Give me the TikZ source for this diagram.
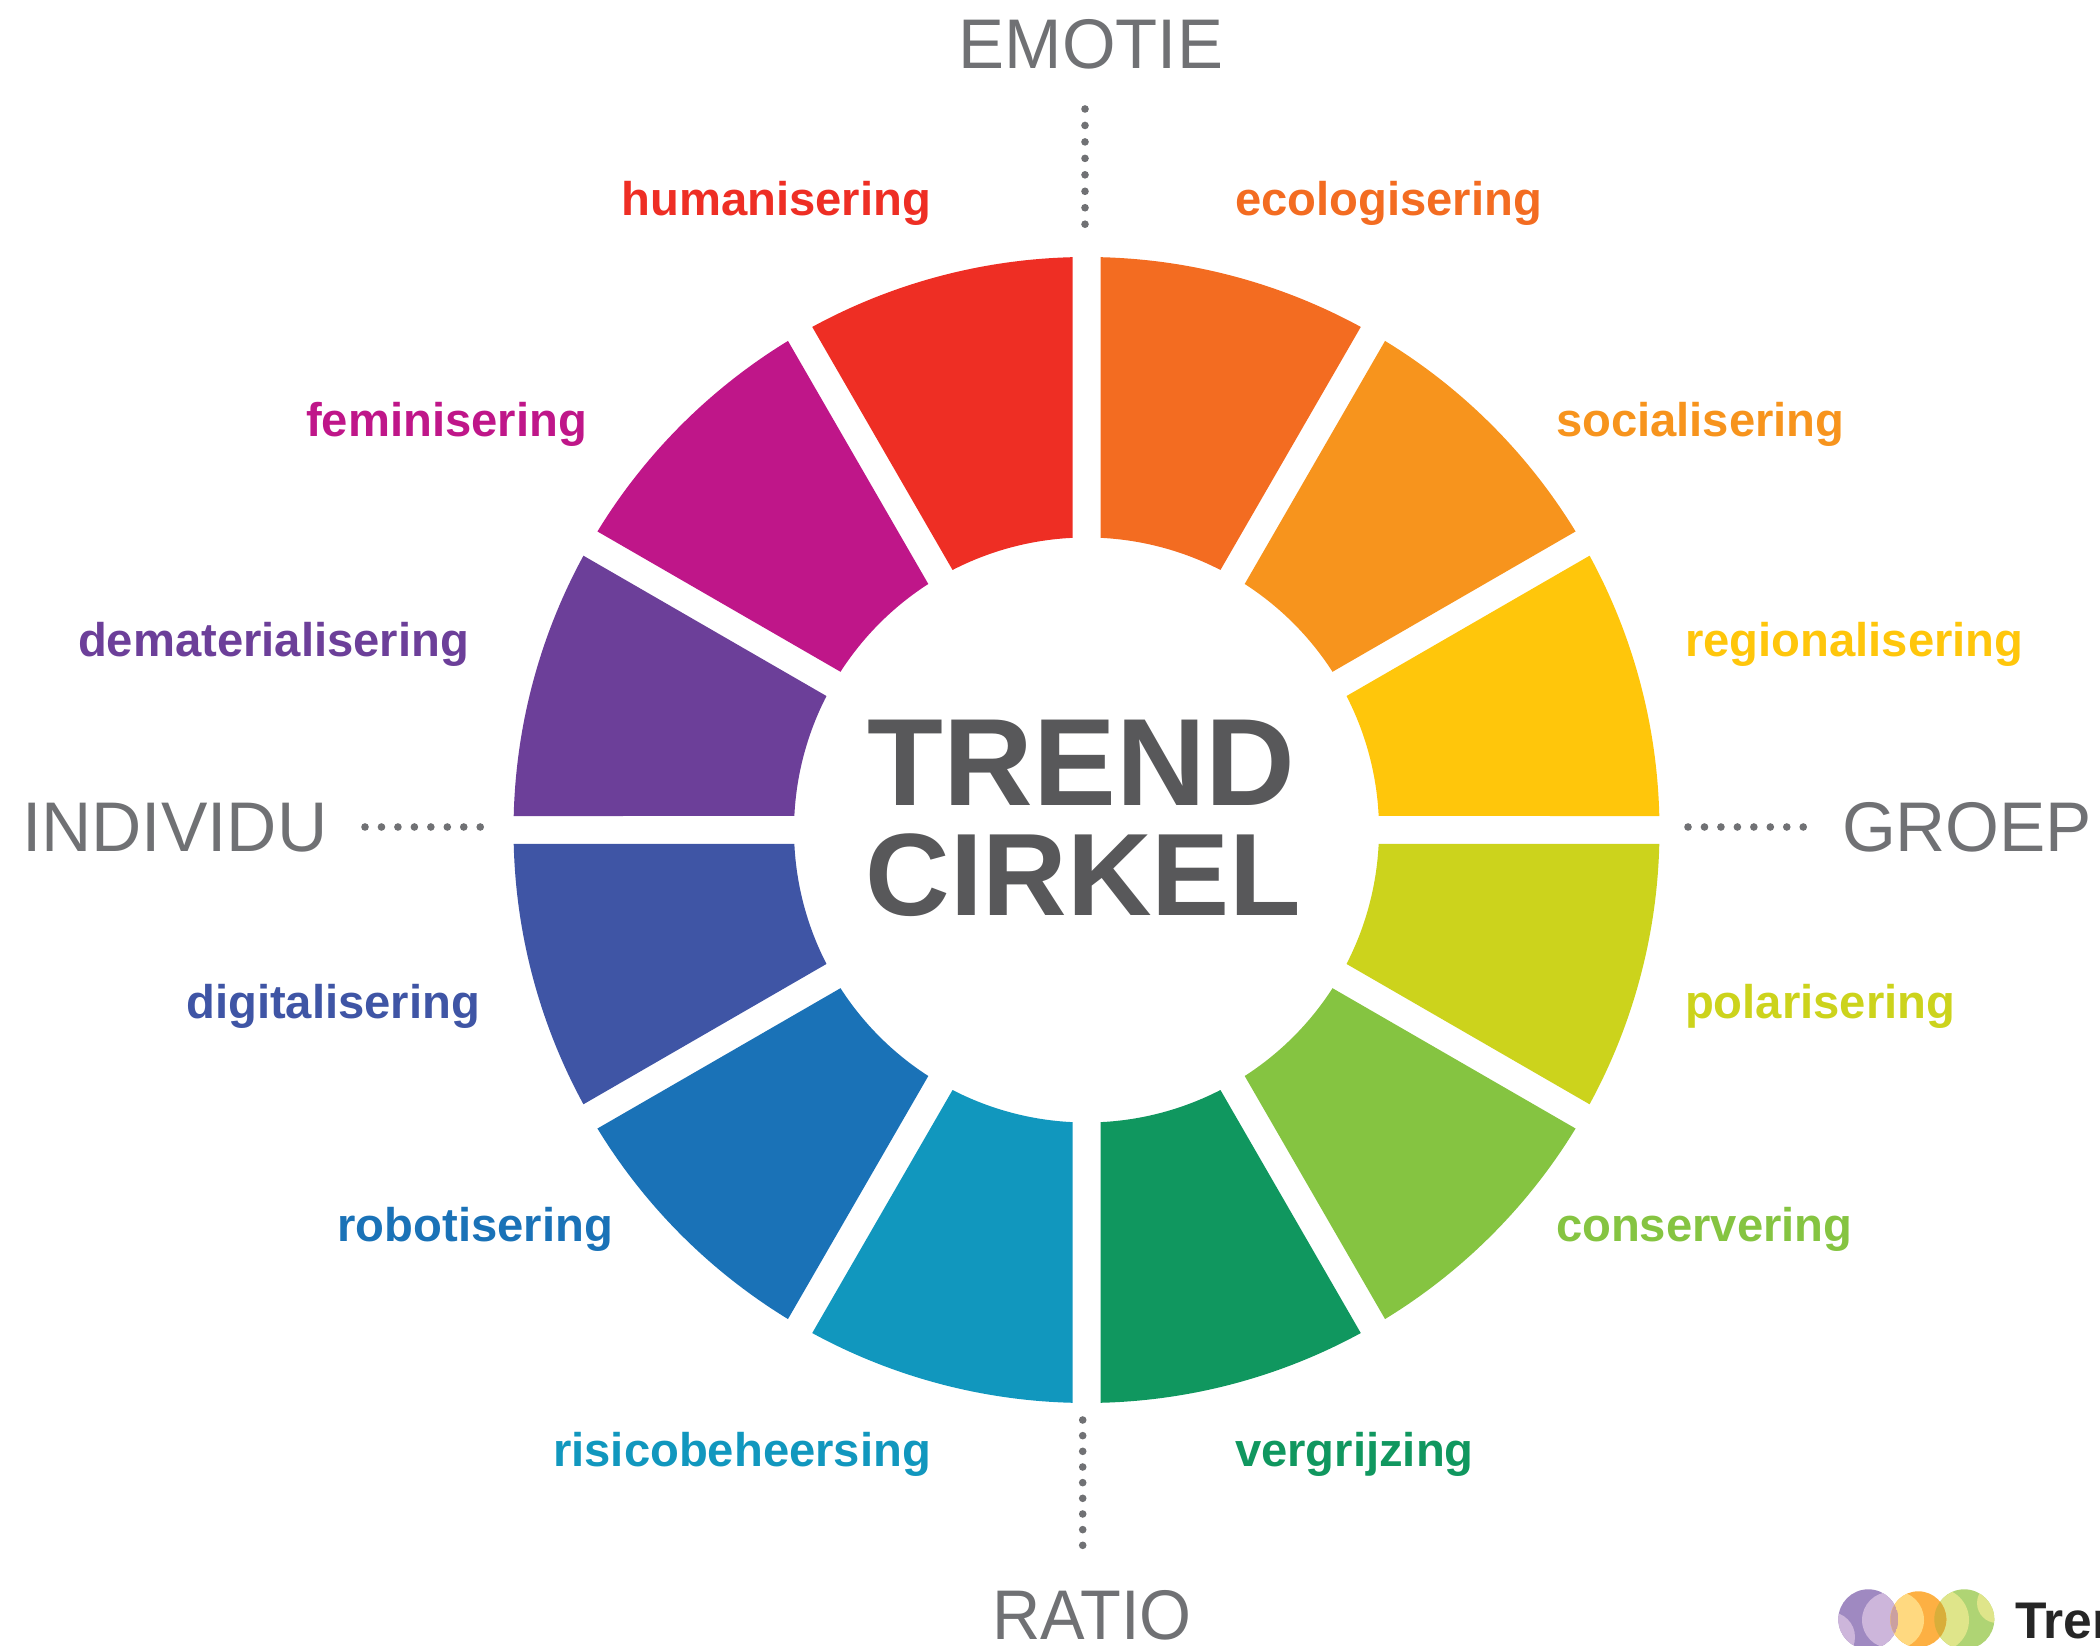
\documentclass[tikz,border=0pt]{standalone}
\usepackage{fontspec}
\setmainfont{Liberation Sans}
\definecolor{cEco}{HTML}{F36C21}
\definecolor{cSoc}{HTML}{F7941D}
\definecolor{cReg}{HTML}{FFC60B}
\definecolor{cPol}{HTML}{CCD31C}
\definecolor{cCon}{HTML}{85C441}
\definecolor{cVer}{HTML}{10975F}
\definecolor{cRis}{HTML}{1197BE}
\definecolor{cRob}{HTML}{1A72B7}
\definecolor{cDig}{HTML}{3F55A5}
\definecolor{cDem}{HTML}{6C3F99}
\definecolor{cFem}{HTML}{BF1689}
\definecolor{cHum}{HTML}{EE2E24}
\definecolor{axisgrey}{HTML}{707174}
\definecolor{titlegrey}{HTML}{58585A}
\definecolor{lPur}{HTML}{9F89C1}
\definecolor{lPurL}{HTML}{CDB6DB}
\definecolor{lOra}{HTML}{FDB043}
\definecolor{lOraL}{HTML}{FFD980}
\definecolor{lGre}{HTML}{AFD474}
\definecolor{lGreL}{HTML}{DFE58A}
\definecolor{lMixA}{HTML}{CBA0A0}
\definecolor{lMixB}{HTML}{D8AE3A}
\tikzset{
  trendlabel/.style={font=\bfseries\fontsize{40.3}{44}\selectfont, inner sep=0pt, outer sep=0pt},
  axislabel/.style={font=\fontsize{60}{64}\selectfont, text=axisgrey, inner sep=0pt, outer sep=0pt},
  titlelabel/.style={font=\bfseries, text=titlegrey, inner sep=0pt, outer sep=0pt, anchor=base},
  dotline/.style={draw=axisgrey, line width=6.5pt, line cap=round, dash pattern=on 0pt off #1},
  dotline/.default=14.05pt,
}
\begin{document}
\begin{tikzpicture}[x=0.03cm,y=0.03cm]
\useasboundingbox (0,0) rectangle (2100,1645);
\clip (0,0) rectangle (2100,1645);
% wheel
\def\Rout{573}\def\Rin{292.5}\def\Gap{14}
\pgfmathsetmacro{\Oa}{asin(\Gap/\Rout)}
\pgfmathsetmacro{\Ia}{asin(\Gap/\Rin)}
\begin{scope}[shift={(1086.5,815)}]
\foreach \a/\c in {60/cEco,30/cSoc,0/cReg,-30/cPol,-60/cCon,-90/cVer,-120/cRis,-150/cRob,-180/cDig,150/cDem,120/cFem,90/cHum}{
  \pgfmathsetmacro{\sO}{\a+\Oa}
  \pgfmathsetmacro{\eO}{\a+30-\Oa}
  \pgfmathsetmacro{\sI}{\a+\Ia}
  \pgfmathsetmacro{\eI}{\a+30-\Ia}
  \fill[\c] (\sO:\Rout) arc[start angle=\sO,end angle=\eO,radius=\Rout]
    -- (\eI:\Rin) arc[start angle=\eI,end angle=\sI,radius=\Rin] -- cycle;
}
\end{scope}
% title
\node[titlelabel] (t1) at (1081.5,839) {\fontsize{106}{106}\selectfont TREND};
\node[titlelabel] (t2) at (1083.5,729) {\fontsize{100}{100}\selectfont CIRKEL};
% trend labels
\node[trendlabel,text=cEco,anchor=base west] (eco) at (1235,1429) {ecologisering};
\node[trendlabel,text=cSoc,anchor=base west] (soc) at (1556,1208) {socialisering};
\node[trendlabel,text=cReg,anchor=base west] (reg) at (1685,988) {regionalisering};
\node[trendlabel,text=cPol,anchor=base west] (pol) at (1685,626) {polarisering};
\node[trendlabel,text=cCon,anchor=base west] (con) at (1556,403) {conservering};
\node[trendlabel,text=cVer,anchor=base west] (ver) at (1235,179) {vergrijzing};
\node[trendlabel,text=cHum,anchor=base east] (hum) at (931,1429) {humanisering};
\node[trendlabel,text=cFem,anchor=base east] (fem) at (587,1208) {feminisering};
\node[trendlabel,text=cDem,anchor=base east] (dem) at (469,988) {dematerialisering};
\node[trendlabel,text=cDig,anchor=base east] (dig) at (480,626) {digitalisering};
\node[trendlabel,text=cRob,anchor=base east] (rob) at (613,403) {robotisering};
\node[trendlabel,text=cRis,anchor=base east] (ris) at (931,179) {risicobeheersing};
% axis labels
\node[axislabel,anchor=base,xscale=0.98] (emo) at (1091,1576) {EMOTIE};
\node[axislabel,anchor=base,xscale=0.95] (rat) at (1092,6) {RATIO};
\node[axislabel,anchor=base west,xscale=0.99] (ind) at (22,793) {INDIVIDU};
\node[axislabel,anchor=base west,xscale=0.985] (gro) at (1842,793) {GROEP};
% dotted axes
\coordinate (eA) at (1085,1536); \coordinate (eB) at (1085,1419);
\coordinate (rA) at (1082.7,225); \coordinate (rB) at (1082.7,99);
\coordinate (iA) at (365,818); \coordinate (iB) at (482,818);
\coordinate (gA) at (1688,818); \coordinate (gB) at (1806,818);
\draw[dotline] (eA) -- (eB);
\draw[dotline=13.37pt] (rA) -- (rB);
\draw[dotline] (iA) -- (iB);
\draw[dotline] (gA) -- (gB);
% logo
\fill[lPur] (1868.3,25.7) circle[radius=30];
\begin{scope}
\clip (1868.3,25.7) circle[radius=30];
\fill[lPurL] (1890,25) circle[radius=28];
\fill[lPurL] (1830,8) circle[radius=25];
\end{scope}
\fill[lGre] (1964.3,25.7) circle[radius=30];
\begin{scope}
\clip (1964.3,25.7) circle[radius=30];
\fill[lGreL] (1937,25) circle[radius=32];
\fill[lGreL] (1997,42) circle[radius=20];
\end{scope}
\fill[lOra] (1918.3,25.7) circle[radius=28];
\begin{scope}
\clip (1918.3,25.7) circle[radius=28];
\fill[lOraL] (1895,25) circle[radius=29];
\begin{scope}
\clip (1868.3,25.7) circle[radius=30];
\fill[lMixA] (1868.3,25.7) circle[radius=30];
\end{scope}
\begin{scope}
\clip (1964.3,25.7) circle[radius=30];
\fill[lMixB] (1964.3,25.7) circle[radius=30];
\end{scope}
\end{scope}
\node[font=\bfseries\fontsize{44}{44}\selectfont,text=black!85,anchor=base west,inner sep=0pt] (logo) at (2015,7) {Tren};
\end{tikzpicture}
\end{document}
